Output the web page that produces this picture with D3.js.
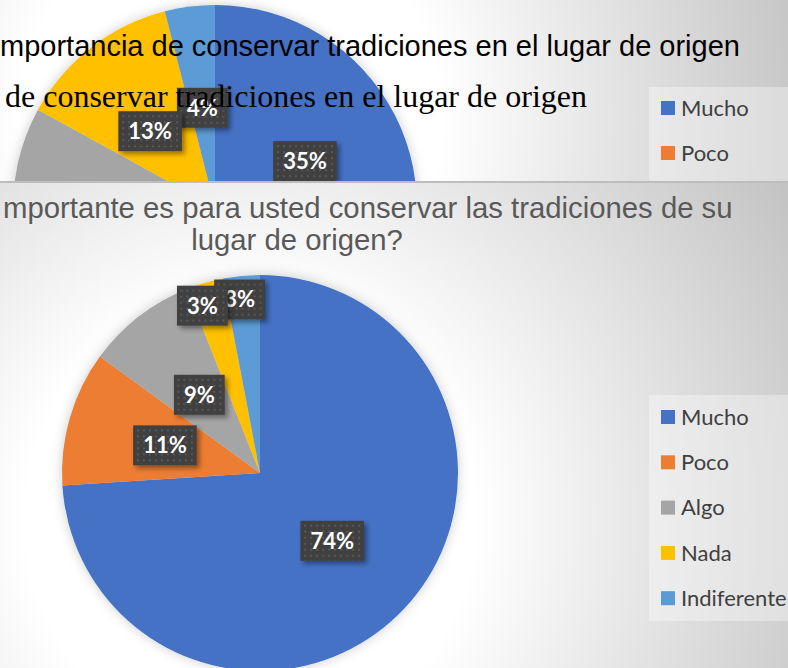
<!DOCTYPE html>
<html><head><meta charset="utf-8">
<script src="https://cdn.jsdelivr.net/npm/d3@7"></script>
<style>html,body{margin:0;padding:0;background:#fff;overflow:hidden}</style>
</head><body>
<script>
const categories = ["Mucho", "Poco", "Algo", "Nada", "Indiferente"];
const topValues = [35, 30, 18, 13, 4];
const bottomValues = [74, 11, 9, 3, 3];
const colors = ["#4472C4", "#ED7D31", "#A5A5A5", "#FFC000", "#5B9BD5"];
const topTitle1 = "mportancia de conservar tradiciones en el lugar de origen";
const topTitle2 = "de conservar tradiciones en el lugar de origen";
const bottomTitle = ["mportante es para usted conservar las tradiciones de su", "lugar de origen?"];
const topLegend = ["Mucho", "Poco"];

(function () {
const W = 788, H = 668;
const svg = d3.select("body").append("svg").attr("width", W).attr("height", H);
const defs = svg.append("defs");

function radial(id, cx, cy, r, c0, c1) {
  const g = defs.append("radialGradient").attr("id", id).attr("gradientUnits", "userSpaceOnUse")
    .attr("cx", cx).attr("cy", cy).attr("r", r);
  g.append("stop").attr("offset", 0).attr("stop-color", c0);
  g.append("stop").attr("offset", 0.35).attr("stop-color", c0);
  g.append("stop").attr("offset", 1).attr("stop-color", c1);
}
radial("bgTop", 230, 120, 600, "#ffffff", "#c2c2c2");
radial("bgBot", 250, 520, 640, "#ffffff", "#c2c2c2");

const sh = defs.append("filter").attr("id", "pieShadow").attr("x", "-20%").attr("y", "-20%").attr("width", "140%").attr("height", "140%");
sh.append("feDropShadow").attr("dx", 0).attr("dy", 0).attr("stdDeviation", 6).attr("flood-color", "#000").attr("flood-opacity", 0.2);
const bs = defs.append("filter").attr("id", "boxShadow").attr("x", "-30%").attr("y", "-30%").attr("width", "170%").attr("height", "170%");
bs.append("feDropShadow").attr("dx", 3).attr("dy", 3).attr("stdDeviation", 2.5).attr("flood-color", "#000").attr("flood-opacity", 0.4);

const pat = defs.append("pattern").attr("id", "dots").attr("patternUnits", "userSpaceOnUse").attr("width", 6).attr("height", 6);
pat.append("rect").attr("width", 6).attr("height", 6).attr("fill", "#404040");
pat.append("rect").attr("x", 2).attr("y", 2).attr("width", 2).attr("height", 2).attr("fill", "#585858");

defs.append("clipPath").attr("id", "clipTop").append("rect").attr("x", 0).attr("y", 0).attr("width", W).attr("height", 181);
defs.append("clipPath").attr("id", "clipBot").append("rect").attr("x", 0).attr("y", 183).attr("width", W).attr("height", H - 183);

const pie = d3.pie().sort(null).value(d => d);
const pct = d => d + "%";

function drawPie(g, values, cx, cy, r) {
  const arc = d3.arc().innerRadius(0).outerRadius(r);
  const pg = g.append("g").attr("transform", `translate(${cx},${cy})`);
  pg.append("g").attr("filter", "url(#pieShadow)")
    .selectAll("path").data(pie(values)).join("path")
    .attr("d", arc).attr("fill", (d, i) => colors[i]);
}

function drawLabels(g, values, cx, cy, r, labelF, labelDx, labelDy, showLabel) {
  const arcs = pie(values);
  const lab = g.append("g").attr("transform", `translate(${cx},${cy})`);
  const items = arcs.map((d, i) => ({ d, i })).filter(o => showLabel[o.i]).reverse();
  items.forEach(({ d, i }) => {
    const la = d3.arc().innerRadius(0).outerRadius(2 * labelF[i] * r);
    const [x, y] = la.centroid(d);
    const lg = lab.append("g").attr("transform", `translate(${x + labelDx[i]},${y + labelDy[i]})`);
    const t = lg.append("text").attr("text-anchor", "middle").attr("dy", "0.36em")
      .attr("font-family", "Lato, 'Open Sans', sans-serif").attr("font-weight", 700)
      .attr("font-size", 22).attr("fill", "#fff").text(pct(values[i]));
    const w = t.node().getComputedTextLength() + 20;
    lg.insert("rect", "text").attr("x", -w / 2).attr("y", -20).attr("width", w).attr("height", 40)
      .attr("fill", "url(#dots)").attr("filter", "url(#boxShadow)");
  });
}

function drawLegend(g, names, x, y0, step) {
  names.forEach((n, i) => {
    const idx = categories.indexOf(n);
    g.append("rect").attr("x", x).attr("y", y0 + i * step - 7).attr("width", 14).attr("height", 14).attr("fill", colors[idx]);
    g.append("text").attr("x", x + 20).attr("y", y0 + i * step).attr("dy", "0.35em")
      .attr("font-family", "Lato, 'Open Sans', sans-serif").attr("font-size", 22).attr("fill", "#404040").text(n);
  });
}

// ---- top panel ----
const topG = svg.append("g").attr("clip-path", "url(#clipTop)");
topG.append("rect").attr("width", W).attr("height", 181).attr("fill", "url(#bgTop)");
topG.append("rect").attr("x", 649).attr("y", 87).attr("width", 139).attr("height", 94).attr("fill", "#fff").attr("opacity", 0.35);
drawPie(topG, topValues, 215, 207, 202);
topG.append("text").attr("x", 0).attr("y", 56).attr("font-family", "'Liberation Sans', Arial, sans-serif")
  .attr("font-size", 29).attr("fill", "#000").text(topTitle1);
drawLabels(topG, topValues, 215, 207, 202, [0.5, 0.5, 0.5, 0.5, 0.5], [0, 0, 0, -3, 0], [0, 0, 0, 4, 1], [true, false, false, true, true]);
topG.append("text").attr("x", 5).attr("y", 107).attr("font-family", "'Liberation Serif', 'Times New Roman', serif")
  .attr("font-size", 32).attr("fill", "#000").text(topTitle2);
drawLegend(topG, topLegend, 661, 108, 45);

// separator
svg.append("rect").attr("x", 0).attr("y", 181).attr("width", W).attr("height", 2).attr("fill", "#bdbdbd");

// ---- bottom panel ----
const botG = svg.append("g").attr("clip-path", "url(#clipBot)");
botG.append("rect").attr("y", 183).attr("width", W).attr("height", H - 183).attr("fill", "url(#bgBot)");
botG.append("text").attr("x", 3).attr("y", 218).attr("font-family", "'Liberation Sans', Arial, sans-serif")
  .attr("font-size", 29.3).attr("fill", "#595959").text(bottomTitle[0]);
botG.append("text").attr("x", 297).attr("y", 250).attr("text-anchor", "middle").attr("font-family", "'Liberation Sans', Arial, sans-serif")
  .attr("font-size", 29.3).attr("fill", "#595959").text(bottomTitle[1]);
botG.append("rect").attr("x", 649).attr("y", 395).attr("width", 139).attr("height", 226).attr("fill", "#fff").attr("opacity", 0.35);
drawPie(botG, bottomValues, 260, 473, 198);
drawLabels(botG, bottomValues, 260, 473, 198, [0.5, 0.5, 0.5, 0.88, 0.88], [0, 0, 0, -9, -4], [0, 0, 0, 0, 0], [true, true, true, true, true]);
drawLegend(botG, categories, 661, 417, 45.3);
})();
</script>
</body></html>
